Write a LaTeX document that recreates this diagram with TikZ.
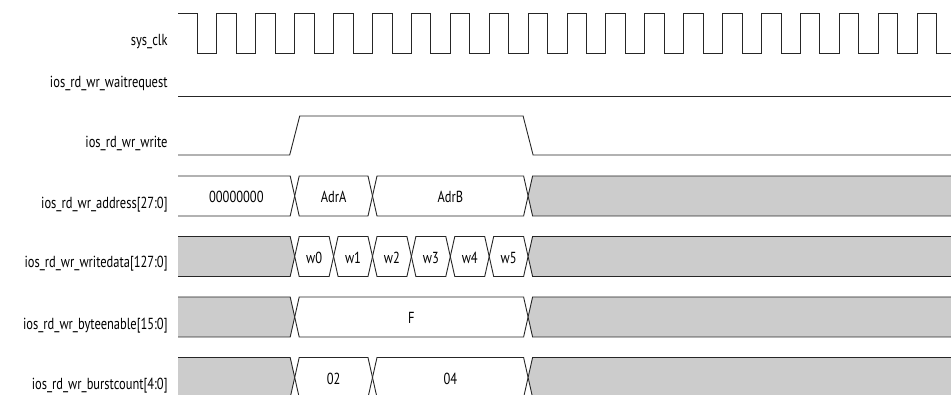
\documentclass[tikz,border=0pt]{standalone}
\usepackage{fontspec}
\setmainfont{PT Sans}[FakeStretch=0.78]
\newcommand\segL[6]{% open left: x1 x2 yc style text name
  \path[#4] (#1,{#3-20}) -- ({#2-4.5},{#3-20}) -- (#2,#3) -- ({#2-4.5},{#3+20}) -- (#1,{#3+20});
  \node[val] (#6) at ({(#1+#2)/2},{#3+7}) {#5};}
\newcommand\segM[6]{%
  \path[#4] (#1,#3) -- ({#1+4.5},{#3-20}) -- ({#2-4.5},{#3-20}) -- (#2,#3) -- ({#2-4.5},{#3+20}) -- ({#1+4.5},{#3+20}) -- cycle;
  \node[val] (#6) at ({(#1+#2)/2},{#3+7}) {#5};}
\newcommand\segR[6]{% open right
  \path[#4] (#2,{#3-20}) -- ({#1+4.5},{#3-20}) -- (#1,#3) -- ({#1+4.5},{#3+20}) -- (#2,{#3+20});
  \node[val] (#6) at ({(#1+#2)/2},{#3+7}) {#5};}
\begin{document}
\begin{tikzpicture}[x=1pt,y=-1pt,line width=0.9pt,
  wave/.style={draw=black!85,line join=miter},
  white seg/.style={draw=black!85,fill=white},
  grey seg/.style={draw=black!85,fill=black!20},
  lbl/.style={anchor=base east,inner sep=0pt,font=\fontsize{16}{18}\selectfont},
  val/.style={anchor=base,inner sep=0pt,font=\fontsize{16}{18}\selectfont}]
\useasboundingbox (0,0) rectangle (951,395);
\clip (0,0) rectangle (951,395);
% labels
\node[lbl] (l1) at (168,46) {sys\_clk};
\node[lbl] (l2) at (168,88) {ios\_rd\_wr\_waitrequest};
\node[lbl] (l3) at (168,148) {ios\_rd\_wr\_write};
\node[lbl] (l4) at (168,209) {ios\_rd\_wr\_address[27:0]};
\node[lbl] (l5) at (168,268) {ios\_rd\_wr\_writedata[127:0]};
\node[lbl] (l6) at (168,330) {ios\_rd\_wr\_byteenable[15:0]};
\node[lbl] (l7) at (168,389) {ios\_rd\_wr\_burstcount[4:0]};
% clock
\draw[wave] (178,13) foreach \i in {0,...,18} {
  -- ({178+(2*\i+1)*19.45},13) -- ({178+(2*\i+1)*19.45},53)
  -- ({178+(2*\i+2)*19.45},53) -- ({178+(2*\i+2)*19.45},13) }
  -- (936.55,13) -- (936.55,53) -- (951,53);
% waitrequest
\draw[wave] (178,96) -- (951,96);
% write
\draw[wave] (178,155) -- (289.7,155) -- (299.7,116) -- (523.1,116) -- (533.1,155) -- (951,155);
% address
\segL{178}{294.7}{196}{white seg}{00000000}{a0}
\segM{294.7}{372.5}{196}{white seg}{AdrA}{a1}
\segM{372.5}{528.1}{196}{white seg}{AdrB}{a2}
\segR{528.1}{951}{196}{grey seg}{}{a3}
% writedata
\segL{178}{294.7}{256.5}{grey seg}{}{d0}
\segM{294.7}{333.6}{256.5}{white seg}{w0}{d1}
\segM{333.6}{372.5}{256.5}{white seg}{w1}{d2}
\segM{372.5}{411.4}{256.5}{white seg}{w2}{d3}
\segM{411.4}{450.3}{256.5}{white seg}{w3}{d4}
\segM{450.3}{489.2}{256.5}{white seg}{w4}{d5}
\segM{489.2}{528.1}{256.5}{white seg}{w5}{d6}
\segR{528.1}{951}{256.5}{grey seg}{}{d7}
% byteenable
\segL{178}{294.7}{317}{grey seg}{}{b0}
\segM{294.7}{528.1}{317}{white seg}{F}{b1}
\segR{528.1}{951}{317}{grey seg}{}{b2}
% burstcount
\segL{178}{294.7}{377.5}{grey seg}{}{c0}
\segM{294.7}{372.5}{377.5}{white seg}{02}{c1}
\segM{372.5}{528.1}{377.5}{white seg}{04}{c2}
\segR{528.1}{951}{377.5}{grey seg}{}{c3}
\end{tikzpicture}
\end{document}
